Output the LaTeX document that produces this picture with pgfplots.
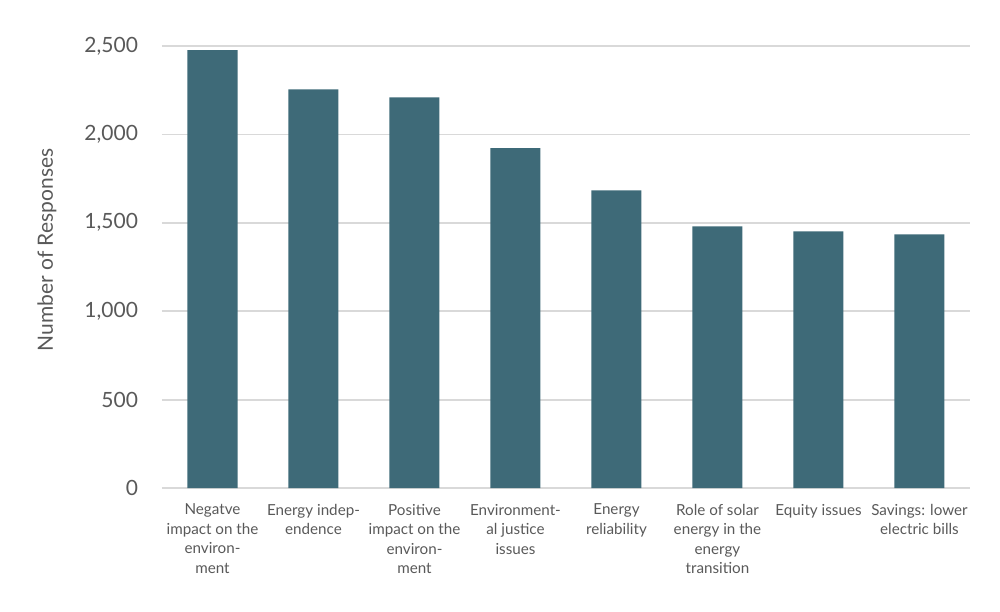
\documentclass[border=0pt]{standalone}
\usepackage{fontspec}
\setmainfont{Lato}
\usepackage{pgfplots}
\pgfplotsset{compat=1.18}
\definecolor{bar}{RGB}{62,106,120}
\definecolor{grid}{RGB}{217,217,217}
\definecolor{txt}{RGB}{89,89,89}
\begin{document}
\begin{tikzpicture}
\path[use as bounding box] (0,0) rectangle (500pt,305.5pt);
\begin{axis}[
  at={(81pt,61.5pt)}, anchor=south west,
  scale only axis, width=404pt, height=221pt,
  xmin=-0.5, xmax=7.5, ymin=0, ymax=2500,
  axis x line*=bottom, axis y line*=left,
  x axis line style={draw=grid, line width=0.9pt},
  y axis line style={draw=none},
  ytick={0,500,1000,1500,2000,2500},
  ymajorgrids, grid style={draw=grid, line width=0.9pt},
  major tick length=0pt,
  xtick=data,
  xticklabels={{Negatve\\impact on the\\environ-\\ment},{Energy indep-\\endence},{Positive\\impact on the\\environ-\\ment},{Environment-\\al justice\\issues},{Energy\\reliability},{Role of solar\\energy in the\\energy\\transition},{Equity issues},{Savings: lower\\electric bills}},
  xticklabel style={align=center, anchor=north, text=txt, font=\fontsize{7.6}{9.75}\selectfont, yshift=-4.5pt},
  yticklabel style={text=txt, font=\fontsize{10.5}{12}\selectfont, xshift=-8.5pt},
  /pgf/number format/.cd, 1000 sep={,}, assume math mode=true,
  /pgfplots/.cd,
  ylabel={Number of Responses},
  ylabel style={at={(axis description cs:-0.1423,0.5385)}, anchor=center, rotate=0, text=txt, font=\fontsize{10.5}{12}\selectfont},
]
\addplot[ybar, bar width=25pt, fill=bar, draw=none] coordinates {
(0,2477) (1,2255) (2,2210) (3,1923) (4,1684) (5,1480) (6,1452) (7,1435)};
\end{axis}
\end{tikzpicture}
\end{document}
